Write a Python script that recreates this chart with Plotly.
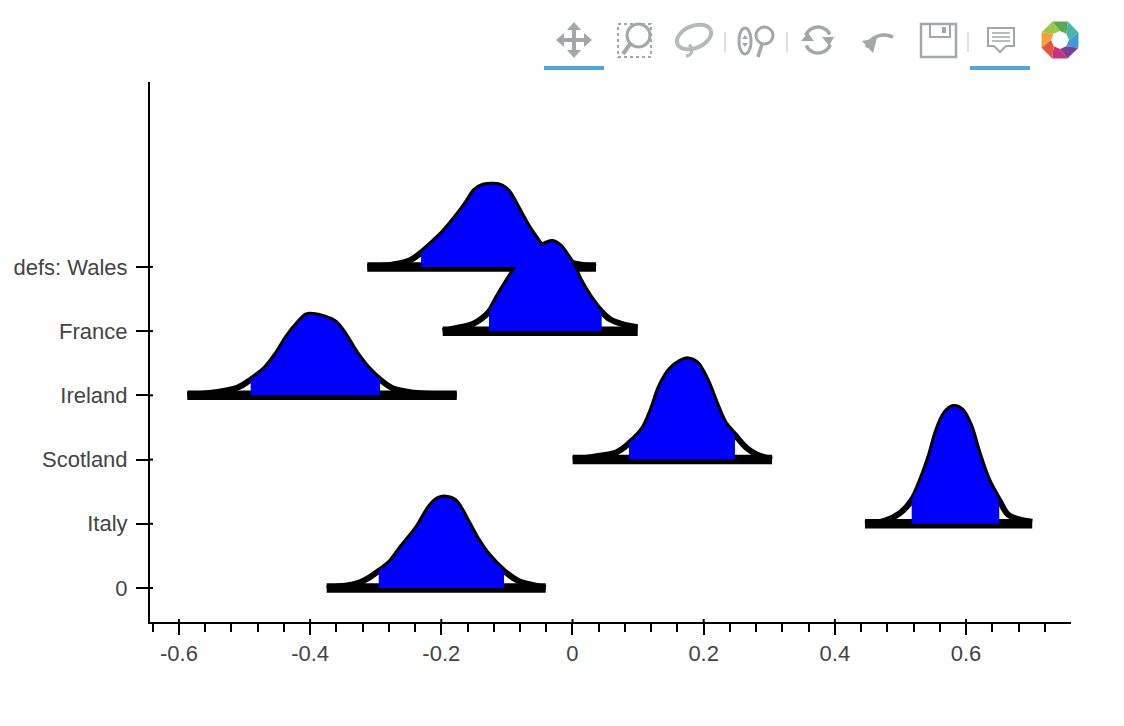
import math
import plotly.graph_objects as go

# ---- data ----
team_labels = ["0", "Italy", "Scotland", "Ireland", "France", "defs: Wales"]
x_major = [-0.6, -0.4, -0.2, 0, 0.2, 0.4, 0.6]
x_labels = ["-0.6", "-0.4", "-0.2", "0", "0.2", "0.4", "0.6"]
x_minor = [-0.64, -0.56, -0.52, -0.48, -0.44, -0.36, -0.32, -0.28, -0.24, -0.16, -0.12, -0.08, -0.04,
           0.04, 0.08, 0.12, 0.16, 0.24, 0.28, 0.32, 0.36, 0.44, 0.48, 0.52, 0.56, 0.64, 0.68, 0.72]

wales_x = [-0.3128, -0.2732, -0.2477, -0.2309, -0.2122, -0.1970, -0.1765, -0.1613, -0.1486, -0.1360, -0.1207,
           -0.1079, -0.0979, -0.0851, -0.0698, -0.0546, -0.0470, -0.0317, -0.0221, -0.0088, 0.0064, 0.0358]
wales_d = [0.0, 0.04, 0.105, 0.222, 0.390, 0.540, 0.790, 1.000, 1.190, 1.265, 1.280,
           1.255, 1.170, 0.950, 0.665, 0.430, 0.330, 0.205, 0.140, 0.085, 0.045, 0.0]
france_x = [-0.1979, -0.1715, -0.1512, -0.1273, -0.1156, -0.1003, -0.0851, -0.0698, -0.0470, -0.0393,
            -0.0293, -0.0191, -0.0088, 0.0012, 0.0114, 0.0267, 0.0445, 0.0572, 0.0774, 0.0994]
france_d = [0.0, 0.06, 0.115, 0.301, 0.509, 0.768, 1.002, 1.210, 1.324, 1.366,
            1.386, 1.324, 1.184, 1.028, 0.794, 0.534, 0.301, 0.185, 0.105, 0.06]
ireland_x = [-0.5872, -0.5323, -0.5095, -0.4906, -0.4688, -0.4509, -0.4357, -0.4180, -0.4052, -0.3951,
             -0.3799, -0.3620, -0.3494, -0.3290, -0.3087, -0.2934, -0.2732, -0.2477, -0.1765]
ireland_d = [0.0, 0.07, 0.125, 0.245, 0.416, 0.650, 0.899, 1.126, 1.246, 1.251,
             1.220, 1.137, 0.981, 0.650, 0.389, 0.245, 0.105, 0.05, 0.0]
scotland_x = [0.0003, 0.0419, 0.0674, 0.0861, 0.1079, 0.1207, 0.1334, 0.1486, 0.1639, 0.1765,
              0.1893, 0.2046, 0.2198, 0.2325, 0.2477, 0.2655, 0.2808, 0.3041]
scotland_d = [0.0, 0.06, 0.115, 0.252, 0.486, 0.771, 1.134, 1.394, 1.52, 1.56,
              1.50, 1.238, 0.849, 0.564, 0.382, 0.18, 0.08, 0.0]
italy_x = [0.4459, 0.4764, 0.4992, 0.5171, 0.5323, 0.5450, 0.5552, 0.5678, 0.5805, 0.5933,
           0.6060, 0.6186, 0.6339, 0.6506, 0.6643, 0.6822, 0.7009]
italy_d = [0.0, 0.05, 0.165, 0.366, 0.704, 1.067, 1.430, 1.717, 1.819, 1.768,
           1.534, 1.118, 0.678, 0.366, 0.14, 0.065, 0.03]
zero_x = [-0.3747, -0.3290, -0.3087, -0.2954, -0.2782, -0.2604, -0.2375, -0.2172, -0.2046, -0.1928,
          -0.1791, -0.1613, -0.1460, -0.1284, -0.1044, -0.0826, -0.0598, -0.0409]
zero_d = [0.0, 0.07, 0.17, 0.265, 0.40, 0.64, 0.930, 1.266, 1.386, 1.407,
          1.355, 1.059, 0.774, 0.514, 0.265, 0.11, 0.045, 0.0]

hdi_low = [-0.2954, 0.5171, 0.0861, -0.4906, -0.1273, -0.2309]
hdi_high = [-0.1044, 0.6506, 0.2477, -0.2934, 0.0445, -0.0221]

curves_x = [zero_x, italy_x, scotland_x, ireland_x, france_x, wales_x]
curves_d = [zero_d, italy_d, scotland_d, ireland_d, france_d, wales_d]
draw_order = [5, 4, 3, 2, 1, 0]

fig = go.Figure()

# outlines and thick bars first: every blue band sits on top of them
for i in draw_order:
    xs, ds = curves_x[i], curves_d[i]
    fig.add_trace(go.Scatter(x=[xs[0], xs[-1]], y=[i, i], mode="lines",
                             line=dict(color="black", width=9.5), hoverinfo="skip", showlegend=False))
    fig.add_trace(go.Scatter(x=xs, y=[i + d for d in ds], mode="lines",
                             line=dict(color="black", width=6, shape="spline", smoothing=1.0),
                             hoverinfo="skip", showlegend=False))

for i in draw_order:
    band = [(x, d) for x, d in zip(curves_x[i], curves_d[i]) if hdi_low[i] <= x <= hdi_high[i]]
    bx = [b[0] for b in band]
    fig.add_trace(go.Scatter(x=bx, y=[i] * len(bx), mode="lines", line=dict(width=0, color="blue"),
                             hoverinfo="skip", showlegend=False))
    fig.add_trace(go.Scatter(x=bx, y=[i + b[1] for b in band], mode="lines", fill="tonexty", fillcolor="#0000ff",
                             line=dict(width=0, color="blue", shape="spline", smoothing=1.0),
                             hoverinfo="skip", showlegend=False))

# ---- page geometry ----
W, H = 1124, 726
L, R, T, B = 150, 1071, 82, 622


def px(x):
    return (x - L) / (R - L)


def py(y):
    return (B - y) / (B - T)


def path(points, close=False):
    s = "M " + " L ".join(f"{px(a):.5f},{py(b):.5f}" for a, b in points)
    return s + (" Z" if close else "")


shapes = []
# inner part of the major ticks
for v in x_major:
    shapes.append(dict(type="line", xref="x", yref="paper", x0=v, x1=v, y0=0, y1=py(619),
                       line=dict(color="black", width=2)))
for i in range(len(team_labels)):
    shapes.append(dict(type="line", xref="paper", yref="y", x0=0, x1=px(153), y0=i, y1=i,
                       line=dict(color="black", width=2)))


# ---- toolbar chrome ----
GREY = "#a3a7aa"


def poly(points, fill=GREY, line=None, width=0, close=True, dash=None):
    d = dict(type="path", xref="paper", yref="paper", path=path(points, close),
             fillcolor=fill if fill else "rgba(0,0,0,0)",
             line=dict(color=line if line else "rgba(0,0,0,0)", width=width))
    if dash:
        d["line"]["dash"] = dash
    shapes.append(d)


def ellipse(cx, cy, rx, ry, rot=0.0, width=3, a0=0, a1=360, n=48, color=GREY):
    pts = []
    for k in range(n + 1):
        t = math.radians(a0 + (a1 - a0) * k / n)
        ex, ey = rx * math.cos(t), ry * math.sin(t)
        pts.append((cx + ex * math.cos(rot) - ey * math.sin(rot), cy + ex * math.sin(rot) + ey * math.cos(rot)))
    poly(pts, fill=None, line=color, width=width, close=False)


def seg(x0, y0, x1, y1, width=3, color=GREY):
    poly([(x0, y0), (x1, y1)], fill=None, line=color, width=width, close=False)


# active underlines
poly([(544, 66), (604, 66), (604, 70), (544, 70)], fill="#4fa6de")
poly([(970, 66), (1030, 66), (1030, 70), (970, 70)], fill="#4fa6de")
# pan
cx, cy = 574, 40
poly([(cx, 22), (cx + 7, 30), (cx + 2, 30), (cx + 2, 38), (cx + 10, 38), (cx + 10, 33), (cx + 18, 40),
      (cx + 10, 47), (cx + 10, 42), (cx + 2, 42), (cx + 2, 50), (cx + 7, 50), (cx, 58), (cx - 7, 50),
      (cx - 2, 50), (cx - 2, 42), (cx - 10, 42), (cx - 10, 47), (cx - 18, 40), (cx - 10, 33), (cx - 10, 38),
      (cx - 2, 38), (cx - 2, 30), (cx - 7, 30)])
# box zoom
poly([(618, 24), (651, 24), (651, 57), (618, 57)], fill=None, line=GREY, width=2, dash="3px,3px")
shapes.append(dict(type="circle", xref="paper", yref="paper", x0=px(627), x1=px(650), y0=py(47), y1=py(24),
                   fillcolor="white", line=dict(color=GREY, width=3)))
seg(630, 44, 623, 54, width=4)
# lasso
ellipse(694, 37, 18, 11, rot=-0.4, width=4, color="#b5b9bb")
ellipse(686, 50, 6, 6, a0=-60, a1=90, width=3, n=12, color="#b5b9bb")
# dividers
for d in (725, 787, 968):
    seg(d, 32, d, 52, width=1.5, color="#d5d7d8")
# wheel zoom
ellipse(745, 41, 6, 13, width=3)
poly([(745, 35), (748, 39), (742, 39)])
poly([(745, 47), (748, 43), (742, 43)])
shapes.append(dict(type="circle", xref="paper", yref="paper", x0=px(756), x1=px(773), y0=py(44), y1=py(27),
                   fillcolor="white", line=dict(color=GREY, width=3)))
seg(762, 44, 758, 57, width=3.5)
# reset
ellipse(818, 40, 13, 13, a0=200, a1=335, width=3.5, n=20)
ellipse(818, 40, 13, 13, a0=20, a1=155, width=3.5, n=20)
poly([(801, 41), (814, 41), (808, 33)][::-1])
poly([(834, 37), (822, 37), (829, 46)])
# undo
ellipse(884, 52, 18, 17, a0=195, a1=300, width=3.5, n=16)
poly([(862, 41), (877, 38), (873, 53)])
# save
poly([(921, 24), (956, 24), (956, 57), (921, 57)], fill=None, line=GREY, width=2.5)
poly([(930, 24), (950, 24), (950, 37), (930, 37)], fill=None, line=GREY, width=2)
poly([(942, 27), (946, 27), (946, 33), (942, 33)])
# hover tooltip
poly([(988, 28), (1014, 28), (1014, 46), (1006, 46), (1000, 52), (994, 46), (988, 46)],
     fill=None, line=GREY, width=2)
for ly in (33, 37, 41):
    seg(992, ly, 1010, ly, width=1.5)
# logo wheel
logo_colors = ["#5aa84f", "#4bb6a6", "#3d9bd6", "#7c3f98", "#c7317e", "#e8553d", "#f5a03a", "#9bc84a"]
for k, c in enumerate(logo_colors):
    a0 = math.radians(-112 + k * 45)
    a1 = math.radians(-112 + (k + 1) * 45)
    a2 = a0 + math.radians(22)
    poly([(1060 + 20 * math.cos(a0), 40 + 20 * math.sin(a0)),
          (1060 + 20 * math.cos(a1), 40 + 20 * math.sin(a1)),
          (1060 + 9 * math.cos(a1 + math.radians(22)), 40 + 9 * math.sin(a1 + math.radians(22))),
          (1060 + 9 * math.cos(a2), 40 + 9 * math.sin(a2))], fill=c)

FONT = dict(family="Liberation Sans, Arial, sans-serif", size=22, color="#444444")

fig.update_layout(
    width=W, height=H, autosize=False,
    margin=dict(l=L, r=W - R, t=T, b=H - B, pad=0),
    plot_bgcolor="white", paper_bgcolor="white", showlegend=False, hovermode=False,
    shapes=shapes,
    xaxis=dict(range=[-0.6441, 0.76], showgrid=False, zeroline=False, showline=True, linecolor="black", linewidth=2,
               tickmode="array", tickvals=x_major, ticktext=x_labels, ticks="outside", ticklen=11,
               tickwidth=2, tickcolor="black", tickfont=FONT, ticklabelstandoff=0,
               minor=dict(tickmode="array", tickvals=x_minor, ticks="outside", ticklen=8, tickwidth=2,
                          tickcolor="black", showgrid=False)),
    yaxis=dict(range=[-0.53, 7.88], showgrid=False, zeroline=False, showline=True, linecolor="black", linewidth=2,
               tickmode="array", tickvals=list(range(len(team_labels))), ticktext=team_labels, ticks="outside",
               ticklen=12, tickwidth=2, tickcolor="black", tickfont=FONT, ticklabelstandoff=4),
)

fig.write_html("out.html", config=dict(displayModeBar=False),
               post_script="document.body.style.margin='0';document.body.style.overflow='hidden';")
